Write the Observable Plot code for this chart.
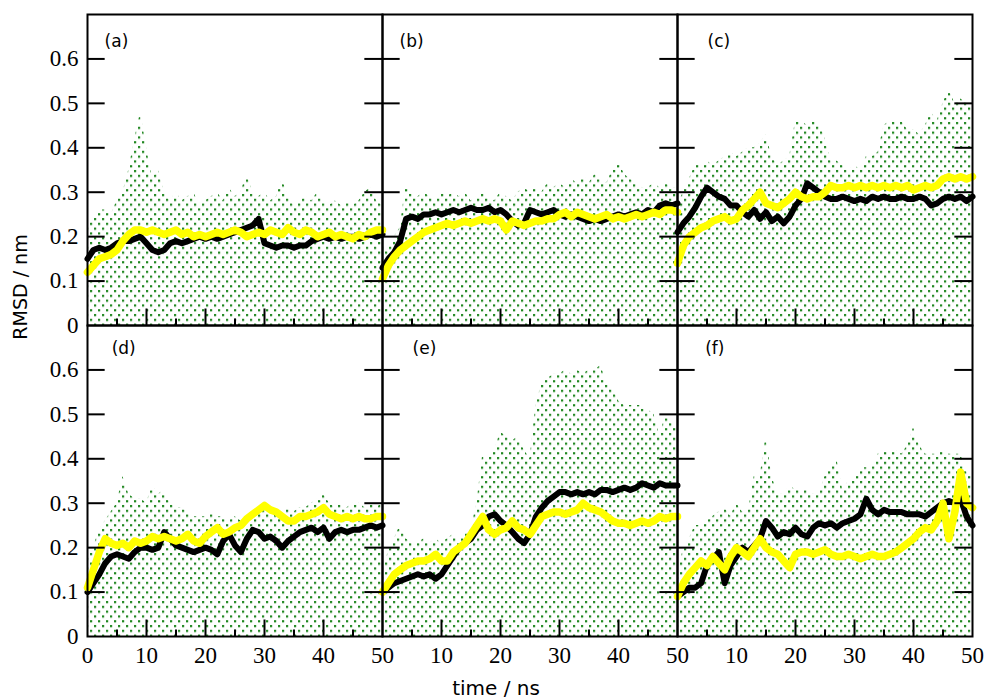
<!DOCTYPE html>
<html>
<head>
<meta charset="utf-8">
<script src="https://cdn.jsdelivr.net/npm/d3@7"></script>
<script src="https://cdn.jsdelivr.net/npm/@observablehq/plot@0.6"></script>
<style>
  html, body { margin: 0; padding: 0; background: #fff; }
  #chart svg { display: block; }
</style>
</head>
<body>
<div id="chart"></div>
<script>
// ---------- data ----------
const time = [0,1,2,3,4,5,6,7,8,9,10,11,12,13,14,15,16,17,18,19,20,21,22,23,24,25,26,27,28,29,30,31,32,33,34,35,36,37,38,39,40,41,42,43,44,45,46,47,48,49,50];

const panelNames = ["(a)","(b)","(c)","(d)","(e)","(f)"];
const panelCol = [0,1,2,0,1,2];
const panelRow = [0,0,0,1,1,1];
const labelT = [2.9,2.9,5.1,4.1,5.1,4.7];
const labelV = [0.64,0.64,0.64,0.648,0.648,0.648];

const blackA = [0.15,0.17,0.175,0.17,0.175,0.185,0.19,0.19,0.195,0.2,0.185,0.17,0.165,0.17,0.185,0.19,0.185,0.19,0.195,0.2,0.195,0.2,0.195,0.2,0.205,0.21,0.215,0.22,0.225,0.24,0.185,0.18,0.175,0.18,0.18,0.175,0.18,0.18,0.19,0.195,0.2,0.195,0.2,0.195,0.2,0.2,0.195,0.2,0.205,0.2,0.205];
const yellowA = [0.12,0.135,0.15,0.155,0.16,0.17,0.19,0.205,0.215,0.215,0.21,0.215,0.21,0.205,0.21,0.215,0.205,0.21,0.2,0.205,0.2,0.205,0.21,0.205,0.21,0.215,0.21,0.2,0.205,0.21,0.205,0.215,0.21,0.205,0.22,0.21,0.205,0.215,0.21,0.2,0.205,0.21,0.2,0.205,0.2,0.195,0.205,0.2,0.21,0.215,0.215];
const greenA = [0.22,0.24,0.26,0.26,0.25,0.28,0.3,0.35,0.42,0.48,0.4,0.33,0.35,0.3,0.28,0.3,0.28,0.29,0.3,0.27,0.28,0.29,0.3,0.28,0.31,0.29,0.3,0.34,0.3,0.29,0.3,0.28,0.29,0.33,0.29,0.27,0.28,0.29,0.28,0.3,0.28,0.27,0.28,0.27,0.28,0.27,0.28,0.3,0.31,0.28,0.27];

const blackB = [0.13,0.15,0.165,0.19,0.24,0.245,0.24,0.25,0.25,0.255,0.25,0.255,0.26,0.255,0.26,0.265,0.26,0.26,0.265,0.255,0.26,0.25,0.235,0.225,0.23,0.26,0.255,0.25,0.255,0.26,0.25,0.245,0.25,0.245,0.24,0.235,0.24,0.235,0.24,0.245,0.25,0.245,0.25,0.255,0.25,0.26,0.255,0.27,0.275,0.27,0.275];
const yellowB = [0.105,0.135,0.155,0.17,0.18,0.19,0.2,0.21,0.215,0.22,0.225,0.23,0.225,0.23,0.235,0.23,0.235,0.24,0.235,0.24,0.235,0.215,0.235,0.23,0.225,0.23,0.235,0.235,0.24,0.24,0.25,0.255,0.245,0.255,0.25,0.245,0.24,0.245,0.25,0.24,0.245,0.24,0.245,0.25,0.245,0.25,0.255,0.25,0.26,0.26,0.255];
const greenB = [0.19,0.17,0.2,0.22,0.32,0.3,0.29,0.3,0.29,0.28,0.3,0.29,0.3,0.29,0.3,0.28,0.29,0.3,0.29,0.28,0.3,0.29,0.28,0.3,0.31,0.3,0.31,0.3,0.32,0.31,0.32,0.31,0.33,0.32,0.34,0.32,0.34,0.33,0.32,0.35,0.37,0.34,0.33,0.32,0.31,0.31,0.32,0.31,0.32,0.31,0.31];

const blackC = [0.21,0.23,0.245,0.265,0.29,0.31,0.3,0.29,0.285,0.27,0.27,0.255,0.245,0.26,0.24,0.255,0.235,0.245,0.23,0.245,0.27,0.285,0.32,0.31,0.3,0.29,0.285,0.285,0.29,0.285,0.28,0.285,0.28,0.29,0.285,0.29,0.285,0.285,0.29,0.285,0.285,0.29,0.285,0.27,0.275,0.285,0.29,0.285,0.29,0.28,0.29];
const yellowC = [0.14,0.18,0.2,0.21,0.22,0.225,0.235,0.24,0.245,0.235,0.24,0.26,0.27,0.285,0.3,0.275,0.27,0.265,0.275,0.285,0.3,0.29,0.285,0.29,0.29,0.3,0.315,0.31,0.31,0.315,0.31,0.315,0.31,0.315,0.31,0.315,0.31,0.315,0.31,0.315,0.305,0.31,0.315,0.31,0.315,0.33,0.335,0.33,0.335,0.33,0.335];
const greenC = [0.27,0.3,0.33,0.36,0.36,0.37,0.36,0.37,0.38,0.39,0.38,0.39,0.4,0.4,0.41,0.43,0.38,0.36,0.37,0.38,0.46,0.46,0.45,0.46,0.46,0.42,0.37,0.37,0.36,0.35,0.36,0.35,0.38,0.38,0.39,0.45,0.46,0.46,0.46,0.44,0.44,0.43,0.45,0.48,0.46,0.5,0.53,0.5,0.51,0.5,0.5];

const blackD = [0.1,0.12,0.14,0.165,0.18,0.185,0.18,0.175,0.19,0.2,0.2,0.195,0.2,0.235,0.22,0.205,0.2,0.195,0.19,0.195,0.2,0.195,0.185,0.215,0.23,0.205,0.19,0.22,0.24,0.235,0.22,0.225,0.215,0.2,0.215,0.225,0.235,0.24,0.245,0.235,0.245,0.22,0.235,0.24,0.235,0.24,0.24,0.245,0.25,0.245,0.25];
const yellowD = [0.11,0.15,0.19,0.22,0.21,0.205,0.21,0.2,0.215,0.21,0.215,0.225,0.22,0.225,0.22,0.215,0.22,0.23,0.215,0.21,0.225,0.235,0.245,0.23,0.235,0.245,0.25,0.265,0.275,0.285,0.295,0.285,0.28,0.27,0.26,0.26,0.27,0.27,0.275,0.28,0.29,0.275,0.27,0.265,0.27,0.265,0.27,0.265,0.265,0.27,0.27];
const greenD = [0.18,0.2,0.24,0.26,0.28,0.3,0.36,0.32,0.31,0.31,0.3,0.34,0.32,0.33,0.3,0.29,0.29,0.28,0.27,0.27,0.27,0.28,0.27,0.27,0.26,0.27,0.26,0.27,0.28,0.29,0.3,0.29,0.28,0.28,0.29,0.28,0.29,0.29,0.3,0.31,0.32,0.3,0.29,0.3,0.29,0.3,0.3,0.29,0.3,0.29,0.3];

const blackE = [0.1,0.11,0.12,0.125,0.13,0.135,0.14,0.135,0.14,0.13,0.14,0.16,0.18,0.2,0.21,0.22,0.24,0.25,0.27,0.275,0.26,0.25,0.235,0.22,0.21,0.23,0.27,0.29,0.305,0.315,0.325,0.325,0.32,0.325,0.32,0.325,0.32,0.33,0.33,0.325,0.33,0.335,0.33,0.335,0.345,0.34,0.335,0.345,0.34,0.34,0.34];
const yellowE = [0.1,0.12,0.14,0.15,0.16,0.165,0.17,0.17,0.175,0.185,0.17,0.17,0.19,0.2,0.21,0.23,0.25,0.27,0.24,0.23,0.24,0.245,0.26,0.245,0.24,0.23,0.25,0.27,0.275,0.28,0.28,0.275,0.28,0.285,0.3,0.29,0.285,0.28,0.27,0.26,0.255,0.255,0.25,0.255,0.26,0.255,0.26,0.27,0.265,0.27,0.27];
const greenE = [0.15,0.19,0.22,0.25,0.22,0.21,0.21,0.22,0.21,0.22,0.21,0.22,0.23,0.22,0.23,0.24,0.3,0.41,0.4,0.42,0.46,0.45,0.44,0.45,0.42,0.4,0.52,0.57,0.58,0.59,0.59,0.6,0.59,0.6,0.59,0.6,0.6,0.61,0.57,0.56,0.53,0.52,0.52,0.52,0.52,0.51,0.5,0.45,0.5,0.48,0.47];

const blackF = [0.09,0.1,0.11,0.11,0.12,0.16,0.175,0.19,0.12,0.16,0.18,0.2,0.19,0.205,0.22,0.26,0.245,0.225,0.235,0.23,0.245,0.23,0.225,0.245,0.255,0.25,0.255,0.245,0.255,0.26,0.265,0.275,0.31,0.285,0.275,0.285,0.28,0.28,0.28,0.275,0.275,0.275,0.27,0.28,0.29,0.3,0.305,0.3,0.31,0.27,0.25];
const yellowF = [0.09,0.12,0.14,0.155,0.17,0.16,0.18,0.165,0.15,0.18,0.2,0.19,0.18,0.2,0.22,0.2,0.19,0.185,0.17,0.155,0.185,0.19,0.19,0.185,0.19,0.195,0.185,0.18,0.18,0.185,0.18,0.175,0.18,0.185,0.18,0.18,0.185,0.19,0.2,0.21,0.22,0.235,0.245,0.24,0.26,0.3,0.22,0.28,0.37,0.3,0.29];
const greenF = [0.13,0.2,0.22,0.25,0.25,0.26,0.27,0.28,0.29,0.27,0.3,0.28,0.28,0.36,0.36,0.45,0.36,0.32,0.32,0.34,0.33,0.33,0.33,0.32,0.32,0.36,0.38,0.4,0.33,0.35,0.35,0.38,0.38,0.38,0.41,0.42,0.41,0.42,0.41,0.43,0.47,0.43,0.41,0.41,0.41,0.42,0.41,0.41,0.41,0.37,0.37];

const blackSeries = [blackA, blackB, blackC, blackD, blackE, blackF];
const yellowSeries = [yellowA, yellowB, yellowC, yellowD, yellowE, yellowF];
const greenSeries = [greenA, greenB, greenC, greenD, greenE, greenF];

const yTicks = [0.1, 0.2, 0.3, 0.4, 0.5, 0.6];
const yTickLabels = [0, 0.1, 0.2, 0.3, 0.4, 0.5, 0.6];
const xMajorTicks = [10, 20, 30, 40];
const xMinorTicks = [5, 15, 25, 35, 45];
const xTickLabelsFirst = [0, 10, 20, 30, 40, 50];
const xTickLabelsOther = [10, 20, 30, 40, 50];

// ---------- table ----------
const rows = [];
panelNames.forEach((p, i) => {
  time.forEach((t, j) => rows.push({
    panel: p, col: panelCol[i], row: panelRow[i], t,
    black: blackSeries[i][j], yellow: yellowSeries[i][j], green: greenSeries[i][j]
  }));
});
const panelLabels = panelNames.map((p, i) => ({text: p, col: panelCol[i], row: panelRow[i], t: labelT[i], v: labelV[i]}));
const xLabels = [];
[0, 1, 2].forEach(c => (c === 0 ? xTickLabelsFirst : xTickLabelsOther).forEach(t => xLabels.push({col: c, row: 1, t})));

// ---------- layout ----------
const W = 984, H = 699, ML = 86, MR = 12, MT = 13, MB = 63;
const panelW = (W - ML - MR) / 3, panelH = (H - MT - MB) / 2;
const serif = "Liberation Serif";
const sans = "DejaVu Sans";

const svg = Plot.plot({
  width: W, height: H,
  marginLeft: ML, marginRight: MR, marginTop: MT, marginBottom: MB,
  style: {background: "white", overflow: "visible"},
  x: {domain: [0, 50], axis: null},
  y: {domain: [0, 0.7], axis: null},
  fx: {domain: [0, 1, 2], padding: 0, axis: null},
  fy: {domain: [0, 1], padding: 0, axis: null},
  marks: [
    Plot.areaY(rows, {fx: "col", fy: "row", x: "t", y: "green", fill: "url(#dots)"}),
    Plot.line(rows, {fx: "col", fy: "row", x: "t", y: "black", stroke: "black", strokeWidth: 6, strokeLinejoin: "round"}),
    Plot.line(rows, {fx: "col", fy: "row", x: "t", y: "yellow", stroke: "#ffff00", strokeWidth: 7.5, strokeLinejoin: "round"}),
    Plot.tickY(yTicks, {y: d => d, insetRight: panelW - 18, stroke: "black", strokeWidth: 2}),
    Plot.tickY(yTicks, {y: d => d, insetLeft: panelW - 18, stroke: "black", strokeWidth: 2}),
    Plot.tickX(xMajorTicks, {x: d => d, insetTop: panelH - 17, stroke: "black", strokeWidth: 2}),
    Plot.tickX(xMinorTicks, {x: d => d, insetTop: panelH - 7, stroke: "black", strokeWidth: 2}),
    Plot.frame({stroke: "black", strokeWidth: 2}),
    Plot.axisY({ticks: yTickLabels, tickFormat: d => String(d), tickSize: 0, tickPadding: 9, fontSize: 23, fontFamily: serif, label: null, fill: "black"}),
    Plot.text(xLabels, {fx: "col", fy: "row", x: "t", y: () => 0, text: d => String(d.t), dy: 10, lineAnchor: "top", fontSize: 23, fontFamily: serif, fill: "black"}),
    Plot.text(panelLabels, {fx: "col", fy: "row", x: "t", y: "v", text: "text", textAnchor: "start", lineAnchor: "middle", fontSize: 17, fontFamily: sans, fill: "black"})
  ]
});

// dot (stipple) pattern for the envelope area
const defs = d3.select(svg).insert("defs", ":first-child");
const pat = defs.append("pattern").attr("id", "dots").attr("patternUnits", "userSpaceOnUse")
  .attr("width", 8).attr("height", 9.6);
pat.append("rect").attr("x", 1).attr("y", 1).attr("width", 2.2).attr("height", 2.2).attr("fill", "#1f861f");
pat.append("rect").attr("x", 5).attr("y", 5.8).attr("width", 2.2).attr("height", 2.2).attr("fill", "#1f861f");

// axis titles
d3.select(svg).append("text")
  .attr("transform", "translate(27,287) rotate(-90)")
  .attr("text-anchor", "middle")
  .attr("font-family", sans).attr("font-size", 19).attr("fill", "black")
  .text("RMSD / nm");
d3.select(svg).append("text")
  .attr("x", 496).attr("y", 695)
  .attr("text-anchor", "middle")
  .attr("font-family", sans).attr("font-size", 20).attr("fill", "black")
  .text("time / ns");

document.getElementById("chart").appendChild(svg);
</script>
</body>
</html>
